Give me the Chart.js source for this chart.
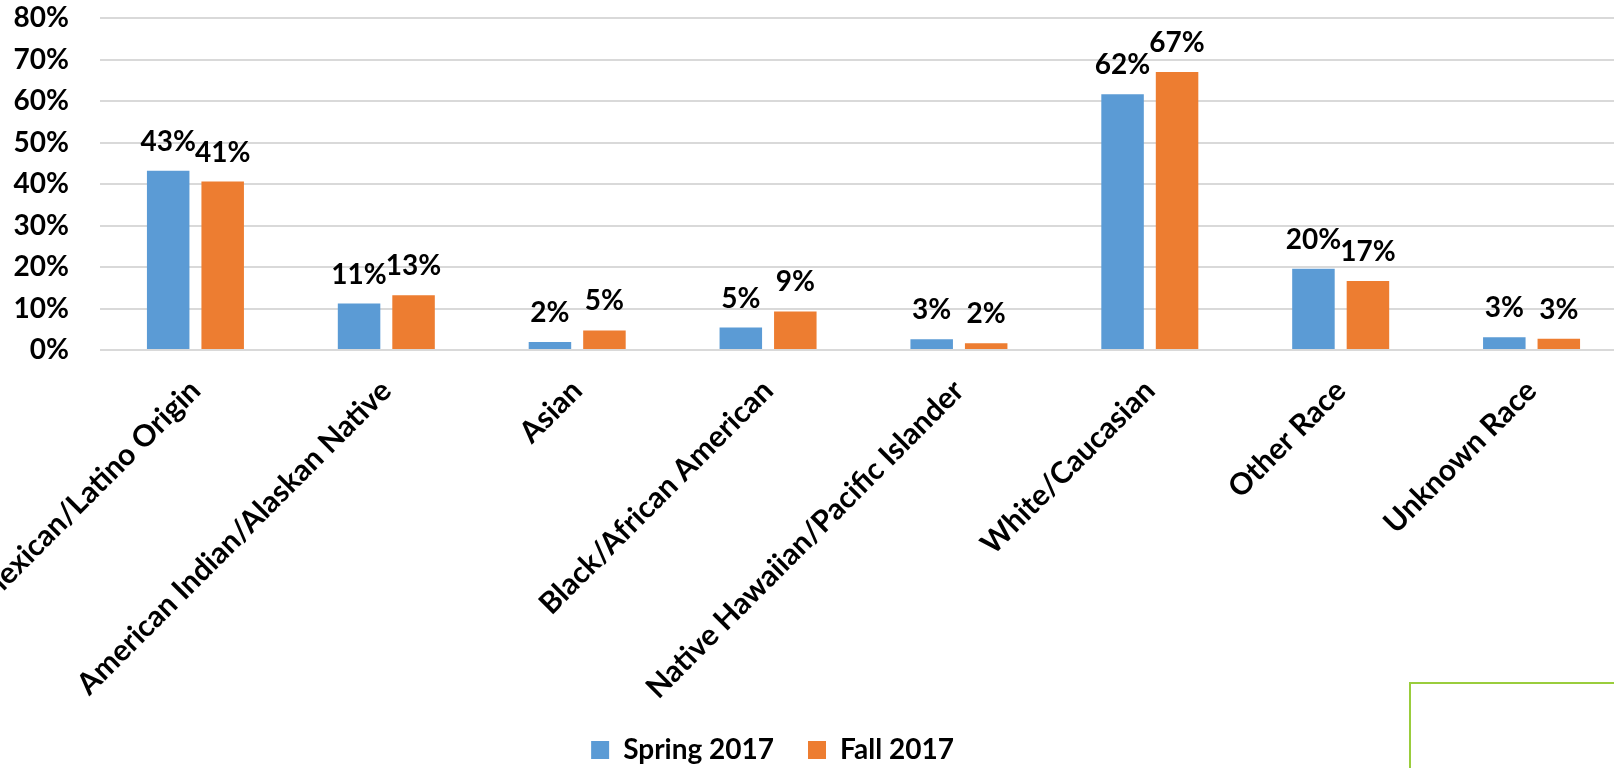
<!DOCTYPE html>
<html>
<head>
<meta charset="utf-8">
<script src="https://cdn.jsdelivr.net/npm/chart.js@4/dist/chart.umd.min.js"></script>
<style>
	html, body { margin: 0; padding: 0; overflow: hidden; background: #fff; width: 1614px; height: 768px; }
	#graphique { position: absolute; left: -82px; top: 0; }
	.cadre { position: absolute; left: 1409px; top: 682px; width: 260px; height: 120px; border-left: 2px solid #9ACD3C; border-top: 2px solid #9ACD3C; }
</style>
</head>
<body>
<canvas id="graphique" width="1709" height="774"></canvas>
<div class="cadre"></div>
<script>
// Catégories et valeurs (en %)
const categories = [
	"Mexican/Latino Origin",
	"American Indian/Alaskan Native",
	"Asian",
	"Black/African American",
	"Native Hawaiian/Pacific Islander",
	"White/Caucasian",
	"Other Race",
	"Unknown Race"
];
const spring2017 = [43.2, 11.2, 1.9, 5.4, 2.6, 61.6, 19.6, 3.1];
const fall2017 = [40.6, 13.2, 4.7, 9.3, 1.6, 67.0, 16.6, 2.7];
const seriesLabels = ["Spring 2017", "Fall 2017"];
const yTicks = [0, 10, 20, 30, 40, 50, 60, 70, 80];

const police = "Lato";
Chart.defaults.font.family = police;
Chart.defaults.font.weight = "bold";
Chart.defaults.color = "#000";

// Étiquettes de valeur au-dessus des barres
const etiquettesValeurs = {
	id: "etiquettesValeurs",
	afterDatasetsDraw(chart) {
		const ctx = chart.ctx;
		ctx.save();
		ctx.font = "bold 28px " + police;
		ctx.fillStyle = "#000";
		ctx.textAlign = "center";
		ctx.textBaseline = "alphabetic";
		chart.data.datasets.forEach((ds, i) => {
			chart.getDatasetMeta(i).data.forEach((bar, j) => {
				ctx.fillText(Math.round(ds.data[j]) + "%", bar.x, bar.y - 20);
			});
		});
		ctx.restore();
	}
};

const data = {
	labels: categories,
	datasets: [{
		label: seriesLabels[0],
		data: spring2017,
		backgroundColor: "#5B9BD5",
		categoryPercentage: 0.571,
		barPercentage: 0.78
	}, {
		label: seriesLabels[1],
		data: fall2017,
		backgroundColor: "#ED7D31",
		categoryPercentage: 0.571,
		barPercentage: 0.78
	}]
};

const config = {
	type: "bar",
	data: data,
	plugins: [etiquettesValeurs],
	options: {
		responsive: false,
		animation: false,
		layout: { padding: { top: 18, left: 0, right: 0, bottom: 0 } },
		plugins: {
			tooltip: { enabled: false },
			legend: {
				position: "bottom",
				labels: {
					boxWidth: 18,
					boxHeight: 18,
					padding: 34,
					font: { size: 28, weight: "bold" }
				}
			}
		},
		scales: {
			x: {
				grid: { display: false },
				border: { display: false },
				ticks: {
					autoSkip: false,
					minRotation: 45,
					maxRotation: 45,
					padding: 15,
					font: { size: 30, weight: "bold" }
				},
				afterFit(scale) {
					scale.paddingLeft = 0;
					scale.paddingRight = 0;
					scale.height = 352;
				}
			},
			y: {
				min: 0,
				max: 80,
				afterBuildTicks(scale) {
					scale.ticks = yTicks.map(v => ({ value: v }));
				},
				grid: { color: "#D9D9D9", lineWidth: 2, drawTicks: false },
				border: { display: false },
				ticks: {
					padding: 31,
					font: { size: 28, weight: "bold" },
					callback: v => v + "%"
				},
				afterFit(scale) {
					scale.width = 182;
					scale.paddingTop = 0;
					scale.paddingBottom = 0;
				}
			}
		}
	}
};

new Chart(document.querySelector("#graphique"), config);
</script>
</body>
</html>
